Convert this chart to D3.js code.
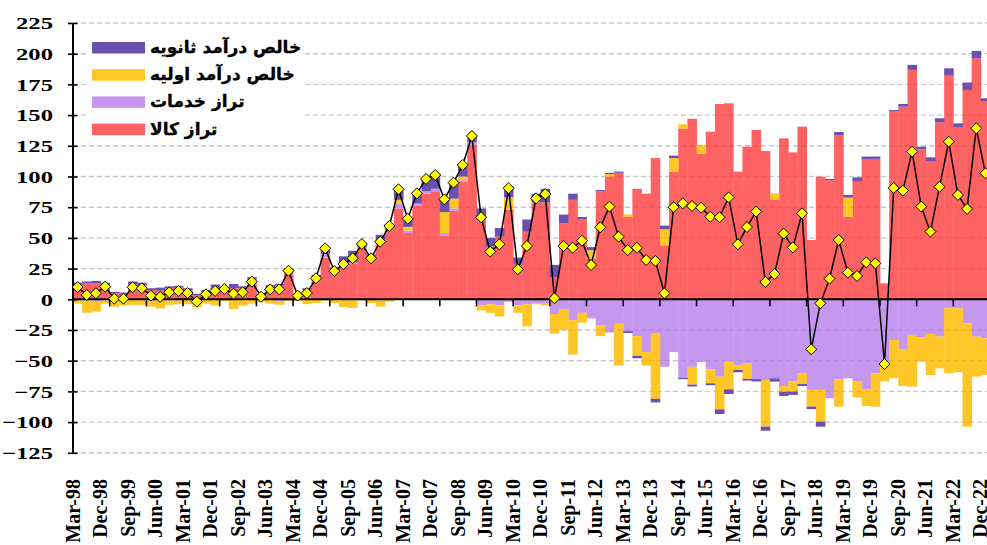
<!DOCTYPE html>
<html>
<head>
<meta charset="utf-8">
<script src="https://cdn.jsdelivr.net/npm/d3@7"></script>
<style>
  body { margin: 0; background: #fff; }
  svg { display: block; }
</style>
</head>
<body>
<svg id="chart"></svg>
<script>
// size of the picture
var width = 987;
var height = 545;

// quarters, Mar-98 .. Dec-22
var quarters = [
    "Mar-98", "Jun-98", "Sep-98", "Dec-98", "Mar-99", "Jun-99", "Sep-99", "Dec-99",
    "Mar-00", "Jun-00", "Sep-00", "Dec-00", "Mar-01", "Jun-01", "Sep-01", "Dec-01",
    "Mar-02", "Jun-02", "Sep-02", "Dec-02", "Mar-03", "Jun-03", "Sep-03", "Dec-03",
    "Mar-04", "Jun-04", "Sep-04", "Dec-04", "Mar-05", "Jun-05", "Sep-05", "Dec-05",
    "Mar-06", "Jun-06", "Sep-06", "Dec-06", "Mar-07", "Jun-07", "Sep-07", "Dec-07",
    "Mar-08", "Jun-08", "Sep-08", "Dec-08", "Mar-09", "Jun-09", "Sep-09", "Dec-09",
    "Mar-10", "Jun-10", "Sep-10", "Dec-10", "Mar-11", "Jun-11", "Sep-11", "Dec-11",
    "Mar-12", "Jun-12", "Sep-12", "Dec-12", "Mar-13", "Jun-13", "Sep-13", "Dec-13",
    "Mar-14", "Jun-14", "Sep-14", "Dec-14", "Mar-15", "Jun-15", "Sep-15", "Dec-15",
    "Mar-16", "Jun-16", "Sep-16", "Dec-16", "Mar-17", "Jun-17", "Sep-17", "Dec-17",
    "Mar-18", "Jun-18", "Sep-18", "Dec-18", "Mar-19", "Jun-19", "Sep-19", "Dec-19",
    "Mar-20", "Jun-20", "Sep-20", "Dec-20", "Mar-21", "Jun-21", "Sep-21", "Dec-21",
    "Mar-22", "Jun-22", "Sep-22", "Dec-22"
];

// x labels shown (every third quarter)
var xLabels = [
    "Mar-98", "Dec-98", "Sep-99", "Jun-00", "Mar-01", "Dec-01", "Sep-02", "Jun-03",
    "Mar-04", "Dec-04", "Sep-05", "Jun-06", "Mar-07", "Dec-07", "Sep-08", "Jun-09",
    "Mar-10", "Dec-10", "Sep-11", "Jun-12", "Mar-13", "Dec-13", "Sep-14", "Jun-15",
    "Mar-16", "Dec-16", "Sep-17", "Jun-18", "Mar-19", "Dec-19", "Sep-20", "Jun-21",
    "Mar-22", "Dec-22"
];

// year starts get a tick on the zero line
var yearTicks = ["Mar-99", "Mar-00", "Mar-01", "Mar-02", "Mar-03", "Mar-04", "Mar-05",
    "Mar-06", "Mar-07", "Mar-08", "Mar-09", "Mar-10", "Mar-11", "Mar-12", "Mar-13",
    "Mar-14", "Mar-15", "Mar-16", "Mar-17", "Mar-18", "Mar-19", "Mar-20", "Mar-21", "Mar-22"];

var yTicks = [-125, -100, -75, -50, -25, 0, 25, 50, 75, 100, 125, 150, 175, 200, 225];

// تراز کالا
var goods = [
    12, 13, 13, 12, 5, 4.5, 12, 11.5,
    7.5, 7, 9, 9.5, 7.5, 3.5, 6, 9.5,
    8, 9, 9, 16.5, 3.5, 9, 11.5, 23,
    2, 7.5, 18.5, 34, 23, 27, 29, 41.5,
    32, 45.5, 58, 74, 54, 76, 86, 88,
    52, 72, 96, 126, 67, 43, 51, 73,
    29, 55, 79, 79, 18, 62, 81, 65,
    33, 88, 100, 103, 67, 90, 86, 115,
    44, 104, 139, 147, 118.5, 136.5, 159, 159.6,
    104, 124.3, 137.9, 120.8, 81.4, 131.1, 119.7, 140.6,
    48.3, 99.9, 97, 133.8, 67.3, 95.8, 114.3, 114.3,
    13, 153.4, 156.9, 186.8, 122.1, 112.1, 144.1, 182.1,
    139.8, 170.5, 196.3, 161
];

// تراز خدمات
var services = [
    -1, -1, -2, -1, -0.5, -0.5, -0.5, -0.5,
    -1, -0.5, -1, -1, -0.5, -1, -0.5, -0.5,
    -0.5, -0.5, -0.5, -0.5, -0.5, -0.5, -1.5, 0,
    -0.5, -0.5, -0.5, 3, 1, 1, 1, 1,
    0.5, 1, 0.5, 4, 2, 2, 2, 2,
    2, 2, 1, 2, -5, -4, -5, -2,
    -5, -4, -3, -3, -12, -8, -17, -11,
    -15.5, -21, -27, -20, -26, -30, -43, -28,
    -55, -43, -64, -55, -51, -57, -63, -50.8,
    -53.5, -52, -65, -65.7, -64.3, -70.6, -67, -60.3,
    -73.8, -73.8, -80.6, -65.1, -64.3, -66.5, -73.3, -60.3,
    -52.1, -33.1, -40.4, -29, -30.9, -28.2, -30.4, -7.3,
    -7.3, -19.5, -30.4, -31.8
];

// خالص درآمد اولیه
var primary = [
    -2.5, -10, -8, -2.5, -5.5, -4.5, -4, -4,
    -5, -7, -3.5, -3, -3.5, -5.5, -3, -4.5,
    -1, -7.5, -4.5, -3, -2, -3, -3, -1.5,
    -0.5, -3.5, -2.5, -1, -3, -6.5, -7, -1,
    -3, -6, -2, 3, 3, 0, 0, 0,
    17, 8, 3, 0, -4, -7, -9, 10,
    -6, -18, -1, -2, -16, -17, -28, -8,
    7, -9, 2, -34, 2, -16, -11, -53,
    13, 11, 3.5, -14.5, 7.3, -11.4, -26.6, -22.5,
    -4, -12.8, 0, -38, 4.9, -4.6, -8.1, -8.7,
    -13.6, -25.8, 0, -22.3, 15.5, -13.5, -13.6, -27.1,
    -14.9, -31.2, -30.2, -42.1, -19.9, -33.4, -25.8, -53,
    -52.1, -84.2, -32.6, -29.8
];

// خالص درآمد ثانویه
var secondary = [
    1.5, 1.5, 2, 1.5, 1, 1, 2.5, 2,
    1.5, 2.5, 1.5, 1.5, 1.5, 1, 1.5, 2.5,
    2, 3.5, 1.5, 1.5, 1, 2.5, 1, 2,
    2, 1.5, 1.5, 5.5, 2, 7, 9.5, 3.5,
    4, 6, 3, 8, 6.5, 8, 10, 11,
    10, 13, 9, 5, 7, 7, 7, 9,
    5, 10, 7, 11, 10, 7, 5, 2,
    2.5, 1, 1, 1, -1.5, -2, 0, -3,
    3, 2, -1, -1.5, 0, -1.6, -3.8, -3.8,
    -1.9, -1.4, -1.9, -3.3, -2.7, -3.5, -2.7, -1.6,
    -2, -4.1, 1, 2.4, 2.2, 3.5, 1.9, 2,
    0, 0.8, 2.2, 4.1, 2.2, 3.5, 3.3, 6,
    3.5, 6, 6, 2.7
];

// current account (line with diamonds)
var current = [
    10, 3.5, 5, 10.3, 0.5, 0.5, 9.8, 9,
    3, 2, 5.7, 6.8, 5.1, -1.9, 4.1, 6.8,
    8.4, 4.6, 5.7, 14.4, 2.1, 8.1, 8.1, 23.3,
    3, 5.1, 17.1, 41.5, 23, 28.7, 33.4, 45,
    33.4, 46.9, 59.7, 89.6, 65.6, 86.3, 98, 101.2,
    81.4, 95, 109.4, 133, 66.8, 38.8, 44.8, 90.4,
    24.4, 43.4, 82.2, 85.7, 0.8, 43.4, 42, 47.7,
    27.9, 58.6, 75.5, 51, 40.1, 42, 32, 31.2,
    4.9, 75, 78.2, 76, 74.6, 67.3, 66.8, 83,
    44.8, 58.9, 71.4, 14.1, 20.6, 53.5, 42.3, 70,
    -40.7, -3.3, 16.8, 48.3, 21.7, 19, 30.1, 29.3,
    -52.7, 90.7, 88.5, 120.2, 75.5, 55.1, 91.7, 128.4,
    85, 73.6, 139.3, 102.6
];

var keys = ["goods", "services", "primary", "secondary"];
var colors = {
    goods: "#FF6262",
    services: "#C597EE",
    primary: "#FFC628",
    secondary: "#6B50B0"
};
var legendItems = [
    { key: "secondary", label: "خالص درآمد ثانویه" },
    { key: "primary", label: "خالص درآمد اولیه" },
    { key: "services", label: "تراز خدمات" },
    { key: "goods", label: "تراز کالا" }
];

// table for d3.stack
var rows = quarters.map(function (q, i) {
    return { q: q, goods: goods[i], services: services[i], primary: primary[i], secondary: secondary[i] };
});

var plotLeft = 73, plotRight = 990, plotTop = 23, plotBottom = 452.8;

var x = d3.scaleBand().domain(quarters).range([plotLeft, plotRight]).padding(0);
var y = d3.scaleLinear().domain([-125, 225]).range([plotBottom, plotTop]);

var svg = d3.select("#chart").attr("width", width).attr("height", height);
svg.append("rect").attr("width", width).attr("height", height).attr("fill", "#fff");

// gridlines behind the bars
function grid(g, stroke) {
    g.selectAll("line")
        .data(yTicks.filter((d) => d !== 0))
        .enter()
        .append("line")
        .attr("x1", plotLeft)
        .attr("x2", width)
        .attr("y1", (d) => y(d))
        .attr("y2", (d) => y(d))
        .attr("stroke", stroke)
        .attr("stroke-width", 1.4)
        .attr("stroke-dasharray", "5,3");
}
svg.append("g").call(grid, "#d9d9d9");

// stacked bars
var series = d3.stack().keys(keys).offset(d3.stackOffsetDiverging)(rows);

svg.append("g")
    .selectAll("g")
    .data(series)
    .enter()
    .append("g")
    .attr("fill", (s) => colors[s.key])
    .selectAll("rect")
    .data((s) => s)
    .enter()
    .append("rect")
    .attr("x", (d) => x(d.data.q))
    .attr("width", x.bandwidth() + 0.4)
    .attr("y", (d) => y(Math.max(d[0], d[1])))
    .attr("height", (d) => Math.abs(y(d[0]) - y(d[1])));

// faint gridlines showing through the bars
svg.append("g").call(grid, "rgba(0,0,0,0.07)");

// legend
var legend = svg.append("g");
legend.append("rect")
    .attr("x", 89).attr("y", 37).attr("width", 216).attr("height", 104)
    .attr("fill", "#fff");
legendItems.forEach(function (item, i) {
    var top = 42 + i * 27.2;
    legend.append("rect")
        .attr("x", 92).attr("y", top)
        .attr("width", 53).attr("height", 11.5)
        .attr("fill", colors[item.key]);
    legend.append("text")
        .attr("x", 150).attr("y", top + 11)
        .attr("font-family", "'DejaVu Sans', sans-serif")
        .attr("font-weight", "bold")
        .attr("font-size", 17)
        .attr("fill", "#000")
        .attr("stroke", "#000")
        .attr("stroke-width", 0.35)
        .text(item.label);
});

// y axis
var yAxis = svg.append("g")
    .attr("transform", `translate(${plotLeft},0)`)
    .call(d3.axisLeft(y).tickValues(yTicks).tickSize(5).tickFormat(d3.format("d")));
yAxis.select(".domain").remove();
yAxis.selectAll(".tick line")
    .attr("x1", 4.5)
    .attr("x2", -5)
    .attr("stroke", "#000")
    .attr("stroke-width", 1.6);
yAxis.selectAll(".tick text")
    .attr("x", null)
    .attr("dy", "0.34em")
    .attr("transform", "translate(-20,0) scale(1.45,1)")
    .attr("font-family", "'Liberation Serif', 'Times New Roman', serif")
    .attr("font-weight", "bold")
    .attr("font-size", 17)
    .attr("fill", "#000");
svg.append("line")
    .attr("x1", plotLeft).attr("x2", plotLeft)
    .attr("y1", plotTop).attr("y2", plotBottom)
    .attr("stroke", "#000").attr("stroke-width", 2);

// zero line with yearly ticks
svg.append("line")
    .attr("x1", plotLeft).attr("x2", width)
    .attr("y1", y(0)).attr("y2", y(0))
    .attr("stroke", "#000").attr("stroke-width", 2);
svg.append("g")
    .selectAll("line")
    .data(yearTicks)
    .enter()
    .append("line")
    .attr("x1", (d) => x(d)).attr("x2", (d) => x(d))
    .attr("y1", y(0)).attr("y2", y(0) + 7)
    .attr("stroke", "#000").attr("stroke-width", 1.6);

// category labels at the bottom
svg.append("g")
    .selectAll("text")
    .data(xLabels)
    .enter()
    .append("text")
    .attr("transform", (d) => `translate(${x(d) + x.bandwidth() / 2 + 2},479) rotate(-90)`)
    .attr("text-anchor", "end")
    .attr("font-family", "'Liberation Serif', 'Times New Roman', serif")
    .attr("font-weight", "bold")
    .attr("font-size", 20)
    .attr("fill", "#000")
    .text((d) => d);

// current account line
var cx = (q) => x(q) + x.bandwidth() / 2;
svg.append("path")
    .datum(quarters)
    .attr("fill", "none")
    .attr("stroke", "#000")
    .attr("stroke-width", 1.5)
    .attr("d", d3.line().x((q) => cx(q)).y((q, i) => y(current[i])));

svg.append("g")
    .selectAll("path")
    .data(quarters)
    .enter()
    .append("path")
    .attr("d", "M0,-5.5L5.5,0L0,5.5L-5.5,0Z")
    .attr("transform", (q, i) => `translate(${cx(q)},${y(current[i])})`)
    .attr("fill", "#FFFF00")
    .attr("stroke", "#000")
    .attr("stroke-width", 1);
</script>
</body>
</html>
